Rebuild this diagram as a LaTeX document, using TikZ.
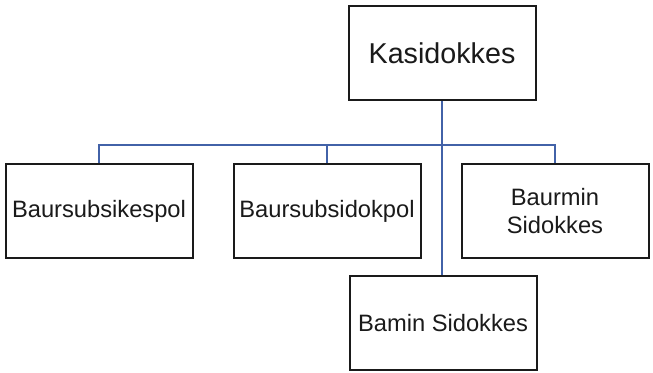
\documentclass[tikz,border=0pt]{standalone}
\usepackage{fontspec}
\setmainfont{Liberation Sans}
\usepackage{xcolor}
\usetikzlibrary{positioning,calc}
\definecolor{boxline}{HTML}{1A1A1A}
\definecolor{linkblue}{HTML}{4262A8}
\tikzset{
    orgbox/.style={
        draw=boxline, fill=white, line width=2pt,
        minimum width=187pt, minimum height=94pt, inner sep=0pt,
        font=\fontsize{23.7}{28.5}\selectfont, align=center, text=boxline
    },
    orgboxtop/.style={
        orgbox, font=\fontsize{28.7}{32}\selectfont
    },
    link/.style={draw=linkblue, line width=1.5pt},
}
\begin{document}
\begin{tikzpicture}[x=1pt, y=-1pt]
    \useasboundingbox (0,0) rectangle (653,372);
    \node[orgboxtop] (head) at (442,53) {Kasidokkes};
    \node[orgbox, below=62pt of head, xshift=113pt] (baurmin) {Baurmin\\Sidokkes};
    \node[orgbox, left=39pt of baurmin] (subdok) {Baursubsidokpol};
    \node[orgbox, left=39pt of subdok] (subkes) {Baursubsikespol};
    \node[orgbox, below=16pt of baurmin, xshift=-112pt] (bamin) {Bamin Sidokkes};
    \coordinate (bus) at ($(head.south)+(0,44)$);
    \draw[link] (head.south) -- (head.south |- bamin.north);
    \draw[link] (subkes.north) |- (bus) -| (baurmin.north);
    \draw[link] (subdok.north) -- (subdok.north |- bus);
\end{tikzpicture}
\end{document}
